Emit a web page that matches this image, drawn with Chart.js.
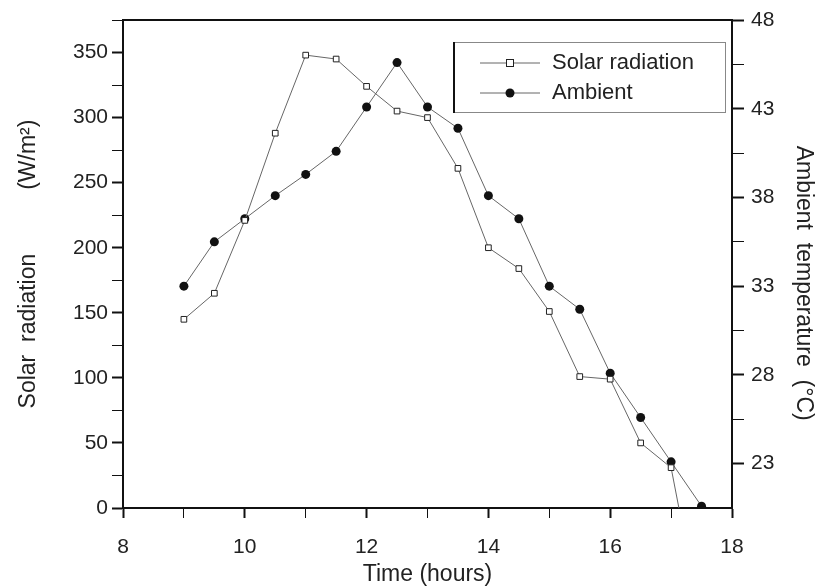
<!DOCTYPE html>
<html>
<head>
<meta charset="utf-8">
<script src="https://cdn.jsdelivr.net/npm/chart.js@4"></script>
<style>
  body { margin: 0; background: #fff; }
  #wrap { width: 817px; height: 586px; }
</style>
</head>
<body>
<div id="wrap"><canvas id="solarChart"></canvas></div>
<script>
// data, half-hour readings
var hours = [9, 9.5, 10, 10.5, 11, 11.5, 12, 12.5, 13, 13.5, 14, 14.5, 15, 15.5, 16, 16.5, 17, 17.5];
var solarRadiation = [145, 165, 221, 288, 348, 345, 324, 305, 300, 261, 200, 184, 151, 101, 99, 50, 31, -90];
var ambientTemp = [33.0, 35.5, 36.8, 38.1, 39.3, 40.6, 43.1, 45.6, 43.1, 41.9, 38.1, 36.8, 33.0, 31.7, 28.1, 25.6, 23.1, 20.6];
var tempTicks = [23, 25.5, 28, 30.5, 33, 35.5, 38, 40.5, 43, 45.5, 48];

var FONT = "'Liberation Sans', Arial, sans-serif";

function toPoints(ys) {
    return hours.map(function (h, i) { return { x: h, y: ys[i] }; });
}

// frame line on top + legend box inside plot
var framePlugin = {
    id: 'frame',
    afterDraw: function (chart) {
        var ctx = chart.ctx, a = chart.chartArea;
        ctx.save();
        ctx.strokeStyle = '#111';
        ctx.lineWidth = 2;
        ctx.beginPath();
        ctx.moveTo(a.left, a.top);
        ctx.lineTo(a.right, a.top);
        ctx.stroke();

        // legend
        var bx = 453, by = 42, bw = 272, bh = 70;
        ctx.fillStyle = '#fff';
        ctx.fillRect(bx, by, bw, bh);
        ctx.strokeStyle = '#888';
        ctx.lineWidth = 1;
        ctx.strokeRect(bx + 0.5, by + 0.5, bw, bh);
        ctx.strokeStyle = '#111';
        ctx.lineWidth = 2;
        ctx.beginPath();
        ctx.moveTo(bx + 1, by);
        ctx.lineTo(bx + 1, by + bh + 1);
        ctx.stroke();

        var rows = [{ y: 63, label: 'Solar radiation', ds: 0 }, { y: 93, label: 'Ambient', ds: 1 }];
        rows.forEach(function (r) {
            ctx.strokeStyle = '#666';
            ctx.lineWidth = 1;
            ctx.beginPath();
            ctx.moveTo(480, r.y);
            ctx.lineTo(540, r.y);
            ctx.stroke();
            if (r.ds === 0) {
                ctx.fillStyle = '#fff';
                ctx.fillRect(507, r.y - 3, 6, 6);
                ctx.strokeStyle = '#222';
                ctx.strokeRect(506.5, r.y - 3.5, 7, 7);
            } else {
                ctx.fillStyle = '#111';
                ctx.beginPath();
                ctx.arc(510, r.y, 4.5, 0, Math.PI * 2);
                ctx.fill();
            }
            ctx.fillStyle = '#222';
            ctx.font = '22px ' + FONT;
            ctx.textBaseline = 'middle';
            ctx.textAlign = 'left';
            ctx.fillText(r.label, 552, r.y);
        });
        ctx.restore();
    }
};

var ctx = document.getElementById('solarChart').getContext('2d');
var chart = new Chart(ctx, {
    type: 'line',
    data: {
        datasets: [{
            label: 'Solar radiation',
            data: toPoints(solarRadiation),
            yAxisID: 'y',
            clip: 0,
            borderColor: '#666',
            borderWidth: 1,
            pointStyle: 'rect',
            pointRadius: 4,
            pointBackgroundColor: '#fff',
            pointBorderColor: '#222',
            pointBorderWidth: 1,
            fill: false
        }, {
            label: 'Ambient',
            data: toPoints(ambientTemp),
            yAxisID: 'y2',
            clip: 0,
            borderColor: '#666',
            borderWidth: 1,
            pointStyle: 'circle',
            pointRadius: 4.5,
            pointBackgroundColor: '#111',
            pointBorderColor: '#111',
            pointBorderWidth: 0,
            fill: false
        }]
    },
    options: {
        responsive: true,
        maintainAspectRatio: false,
        animation: false,
        devicePixelRatio: 1,
        layout: { padding: { top: 20, left: 0, right: 0, bottom: 0 } },
        plugins: {
            legend: { display: false },
            tooltip: { enabled: false }
        },
        scales: {
            x: {
                type: 'linear',
                min: 8,
                max: 18,
                afterFit: function (s) { s.height = 78; },
                border: { color: '#111', width: 2 },
                grid: {
                    drawOnChartArea: false,
                    tickLength: 10,
                    tickColor: '#111',
                    tickWidth: function (c) { return c.tick && c.tick.value % 2 === 0 ? 2 : 1; }
                },
                ticks: {
                    stepSize: 1,
                    padding: 17,
                    color: '#222',
                    font: { family: FONT, size: 21 },
                    maxRotation: 0,
                    callback: function (v) { return v % 2 === 0 ? v : ''; }
                },
                title: {
                    display: true,
                    text: 'Time (hours)',
                    color: '#222',
                    font: { family: FONT, size: 23, lineHeight: 1.0 },
                    padding: 0
                }
            },
            y: {
                position: 'left',
                min: 0,
                max: 375,
                afterFit: function (s) { s.width = 123; },
                border: { color: '#111', width: 2 },
                grid: {
                    drawOnChartArea: false,
                    tickLength: 11,
                    tickColor: '#111',
                    tickWidth: function (c) { return c.tick && c.tick.value % 50 === 0 ? 2 : 1; }
                },
                ticks: {
                    stepSize: 25,
                    padding: 4,
                    color: '#222',
                    font: { family: FONT, size: 21 },
                    callback: function (v) { return v % 50 === 0 ? v : ''; }
                },
                title: {
                    display: true,
                    text: 'Solar  radiation          (W/m\u00B2)',
                    color: '#222',
                    font: { family: FONT, size: 23 },
                    padding: { top: 15, bottom: 0 }
                }
            },
            y2: {
                position: 'right',
                min: 20.5,
                max: 48,
                afterFit: function (s) { s.width = 85; },
                afterBuildTicks: function (s) {
                    s.ticks = tempTicks.map(function (v) { return { value: v }; });
                },
                border: { color: '#111', width: 2 },
                grid: {
                    drawOnChartArea: false,
                    tickLength: 12,
                    tickColor: '#111',
                    tickWidth: function (c) { return c.tick && (c.tick.value - 23) % 5 === 0 ? 2 : 1; }
                },
                ticks: {
                    padding: 7,
                    color: '#222',
                    font: { family: FONT, size: 21 },
                    callback: function (v) { return (v - 23) % 5 === 0 ? v : ''; }
                },
                title: {
                    display: true,
                    text: '      Ambient  temperature  (\u00B0C)',
                    color: '#222',
                    font: { family: FONT, size: 23 },
                    padding: { top: 0, bottom: 0 }
                }
            }
        }
    },
    plugins: [framePlugin]
});
</script>
</body>
</html>
